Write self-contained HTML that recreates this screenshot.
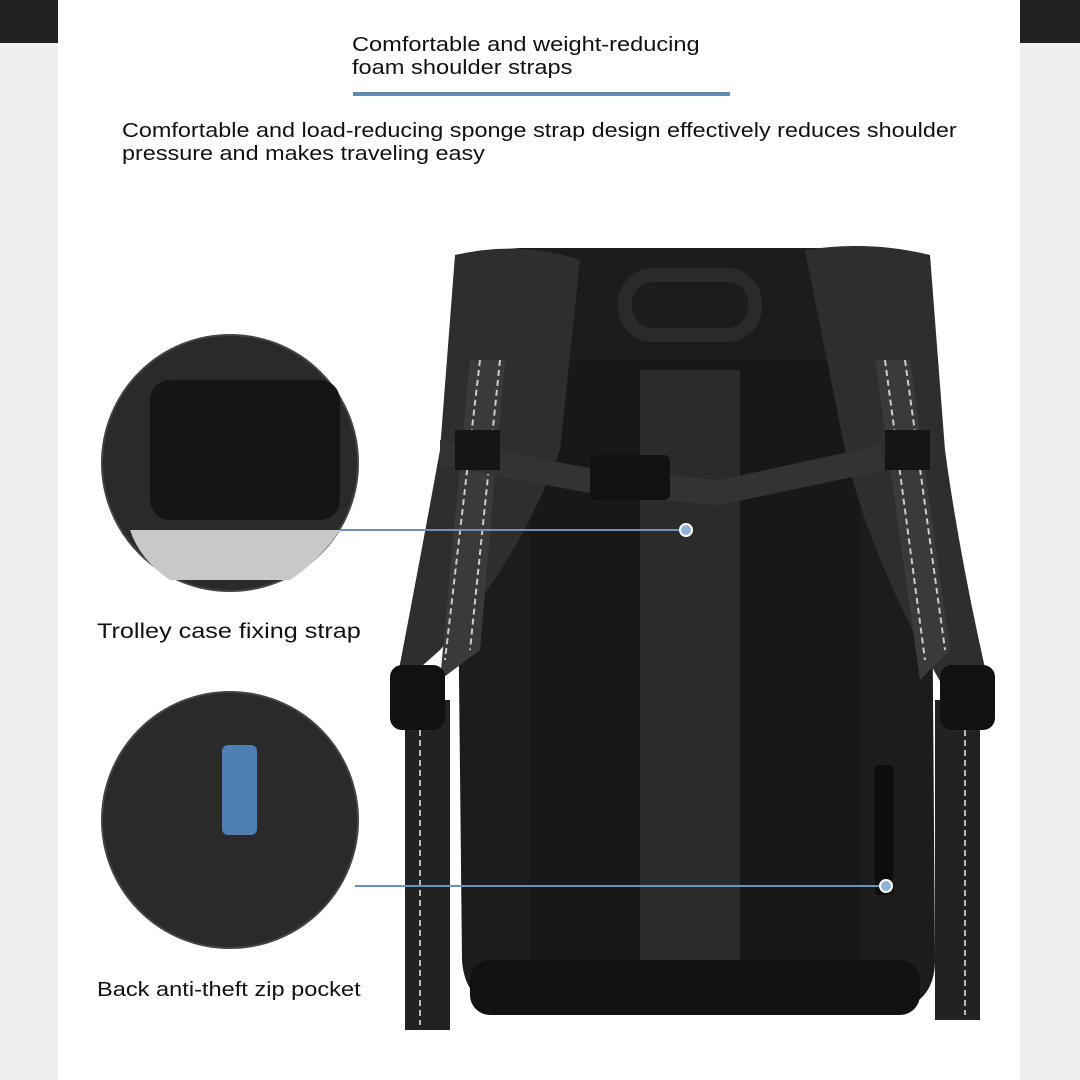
<!DOCTYPE html>
<html><head><meta charset="utf-8"><style>
html,body{margin:0;padding:0}
body{width:1080px;height:1080px;position:relative;overflow:hidden;background:#fff;font-family:"Liberation Sans",sans-serif;color:#111}
.side{position:absolute;top:0;width:60px;height:1080px;background:#eeeeee}
.dark{position:absolute;top:0;height:43px;background:#222}
.t{position:absolute;white-space:nowrap;transform-origin:0 0}
</style></head><body>
<div class="side" style="left:0;width:58px"></div>
<div class="dark" style="left:0;width:58px"></div>
<div class="side" style="left:1020px"></div>
<div class="dark" style="left:1020px;width:60px"></div>
<div class="t" style="left:352px;top:34px;font-size:20px;line-height:23px;transform:scaleX(1.18)">Comfortable and weight-reducing<br>foam shoulder straps</div>
<div style="position:absolute;left:353px;top:92px;width:377px;height:4px;background:#5b8db4"></div>
<div class="t" style="left:122px;top:120px;font-size:20px;line-height:23px;transform:scaleX(1.17)">Comfortable and load-reducing sponge strap design effectively reduces shoulder<br>pressure and makes traveling easy</div>
<div class="t" style="left:97px;top:620px;font-size:21px;transform:scaleX(1.2)">Trolley case fixing strap</div>
<div class="t" style="left:97px;top:979px;font-size:20px;transform:scaleX(1.18)">Back anti-theft zip pocket</div>
<svg width="1080" height="1080" style="position:absolute;left:0;top:0">
<path d="M455 300 Q460 250 520 248 L880 248 Q930 252 930 300 L935 960 Q935 1010 880 1012 L520 1012 Q465 1010 462 960 Z" fill="#1c1c1c"/>
<rect x="625" y="275" width="130" height="60" rx="28" fill="none" stroke="#2a2a2a" stroke-width="14"/>
<rect x="530" y="360" width="330" height="610" fill="#181818"/>
<rect x="640" y="370" width="100" height="600" fill="#2b2b2b"/>
<rect x="470" y="960" width="450" height="55" rx="20" fill="#111"/>
<path d="M455 255 Q520 240 580 260 L560 450 Q520 560 440 650 L395 690 Q420 560 440 450 Z" fill="#2e2e2e"/>
<path d="M805 250 Q870 240 930 255 L945 450 Q960 560 990 690 L945 690 Q870 560 845 450 Z" fill="#2e2e2e"/>
<path d="M470 360 L505 360 L480 650 L440 680 Z" fill="#3a3a3a"/>
<path d="M875 360 L910 360 L950 650 L920 680 Z" fill="#3a3a3a"/>
<line x1="480" y1="360" x2="445" y2="660" stroke="#ccc" stroke-width="2" stroke-dasharray="6 4"/>
<line x1="500" y1="360" x2="470" y2="650" stroke="#ccc" stroke-width="2" stroke-dasharray="6 4"/>
<line x1="885" y1="360" x2="925" y2="660" stroke="#ccc" stroke-width="2" stroke-dasharray="6 4"/>
<line x1="905" y1="360" x2="945" y2="650" stroke="#ccc" stroke-width="2" stroke-dasharray="6 4"/>
<rect x="405" y="700" width="45" height="330" fill="#222"/>
<rect x="935" y="700" width="45" height="320" fill="#222"/>
<line x1="420" y1="700" x2="420" y2="1025" stroke="#bbb" stroke-width="2" stroke-dasharray="6 4"/>
<line x1="965" y1="700" x2="965" y2="1015" stroke="#bbb" stroke-width="2" stroke-dasharray="6 4"/>
<rect x="390" y="665" width="55" height="65" rx="12" fill="#111"/>
<rect x="940" y="665" width="55" height="65" rx="12" fill="#111"/>
<path d="M440 440 L600 470 L720 480 L880 445 L885 470 L720 505 L600 495 L440 465 Z" fill="#333"/>
<rect x="455" y="430" width="45" height="40" fill="#151515"/>
<rect x="885" y="430" width="45" height="40" fill="#151515"/>
<rect x="590" y="455" width="80" height="45" rx="6" fill="#111"/>
<rect x="875" y="765" width="18" height="130" rx="4" fill="#0d0d0d"/>
<circle cx="230" cy="463" r="128" fill="#2a2a2a" stroke="#444" stroke-width="2"/>
<path d="M130 530 L340 530 Q320 560 290 580 L170 580 Q140 560 130 530Z" fill="#c8c8c8"/>
<rect x="150" y="380" width="190" height="140" rx="20" fill="#151515"/>
<circle cx="230" cy="820" r="128" fill="#2a2a2a" stroke="#444" stroke-width="2"/>
<rect x="222" y="745" width="35" height="90" rx="6" fill="#4f7fb5"/>
<line x1="340" y1="530" x2="686" y2="530" stroke="#6a93bb" stroke-width="2"/>
<circle cx="686" cy="530" r="6" fill="#8fb3d8" stroke="#fff" stroke-width="2"/>
<line x1="355" y1="886" x2="886" y2="886" stroke="#6a93bb" stroke-width="2"/>
<circle cx="886" cy="886" r="6" fill="#8fb3d8" stroke="#fff" stroke-width="2"/>
</svg>
</body></html>
